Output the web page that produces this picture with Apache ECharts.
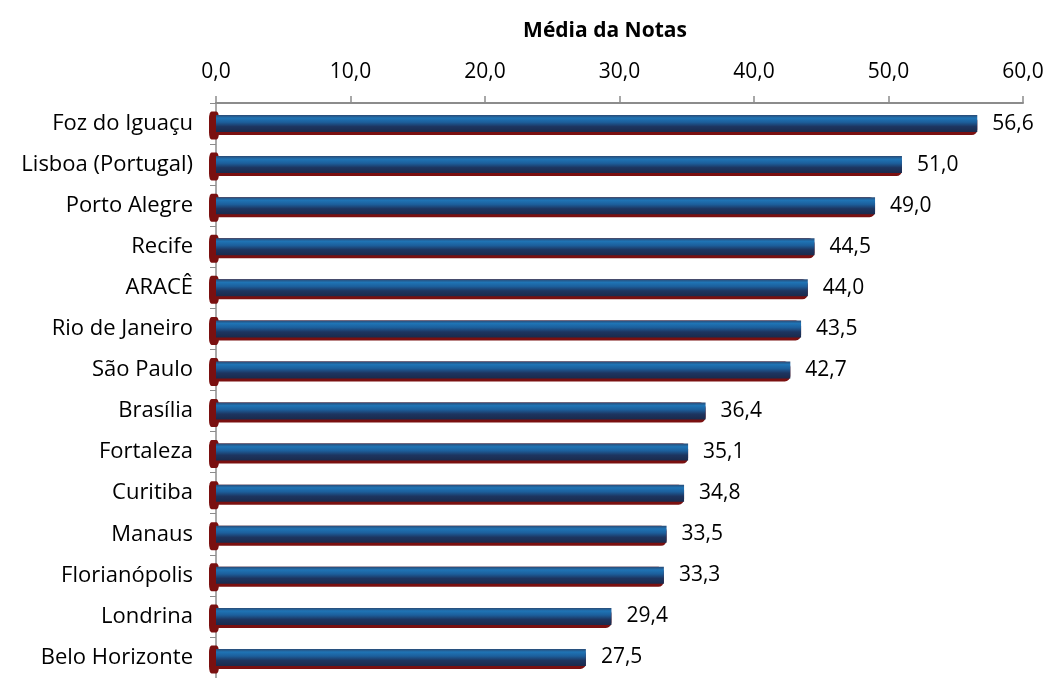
<!DOCTYPE html>
<html>
<head>
<meta charset="utf-8">
<script src="https://cdn.jsdelivr.net/npm/echarts@6/dist/echarts.min.js"></script>
<style>
  html, body { margin: 0; padding: 0; background: #fff; }
  #chart { width: 1049px; height: 678px; }
</style>
</head>
<body>
<div id="chart"></div>
<script>
// Cities, top to bottom
const cities = [
  'Foz do Iguaçu', 'Lisboa (Portugal)', 'Porto Alegre', 'Recife', 'ARACÊ',
  'Rio de Janeiro', 'São Paulo', 'Brasília', 'Fortaleza', 'Curitiba',
  'Manaus', 'Florianópolis', 'Londrina', 'Belo Horizonte'
];
// Average score per city
const scores = [56.6, 51.0, 49.0, 44.5, 44.0, 43.5, 42.7, 36.4, 35.1, 34.8, 33.5, 33.3, 29.4, 27.5];
const axisTicks = [0, 10, 20, 30, 40, 50, 60];

const fontFamily = '"Open Sans", "Noto Sans", sans-serif';
const fmt = v => v.toFixed(1).replace('.', ',');
const darkRed = '#7a1010';

const chart = echarts.init(document.getElementById('chart'));
chart.setOption({
  animation: false,
  title: {
    text: 'Média da Notas',
    left: 600, top: 16, textAlign: 'center',
    textStyle: { fontFamily, fontSize: 21, fontWeight: 'bold', color: '#000' }
  },
  grid: { left: 216, right: 26, top: 103, bottom: -6 },
  xAxis: {
    type: 'value', position: 'top',
    min: axisTicks[0], max: axisTicks[axisTicks.length - 1], interval: 10,
    axisLine: { show: true, lineStyle: { color: '#8c8c8c', width: 2 } },
    axisTick: { show: true, length: 7, lineStyle: { color: '#8c8c8c', width: 1.5 } },
    splitLine: { show: false },
    axisLabel: { formatter: v => fmt(v), margin: 20, fontFamily, fontSize: 21, color: '#000' }
  },
  yAxis: {
    type: 'category', inverse: true, data: cities,
    axisLine: { show: true, lineStyle: { color: '#8c8c8c', width: 1.5 } },
    axisTick: { show: true, length: 6, lineStyle: { color: '#8c8c8c' } },
    axisLabel: { margin: 23, fontFamily, fontSize: 22, color: '#000' }
  },
  series: [
    {
      // dark red backing behind each bar
      type: 'bar', data: scores, barWidth: 20, barGap: '-100%', z: 1,
      itemStyle: { color: darkRed, borderColor: darkRed, borderWidth: 3, borderRadius: [2, 4, 4, 2] },
      silent: true
    },
    {
      // rounded red cap at the base of each bar
      type: 'scatter', data: scores.map(() => 0), z: 2, silent: true,
      symbol: 'roundRect', symbolSize: [10, 28], symbolOffset: [-2, 2],
      itemStyle: { color: darkRed, opacity: 1 }
    },
    {
      type: 'bar', data: scores, barWidth: 17, z: 3,
      itemStyle: {
        color: new echarts.graphic.LinearGradient(0, 0, 0, 1, [
          { offset: 0, color: '#2a4a74' },
          { offset: 0.18, color: '#1f74b5' },
          { offset: 0.42, color: '#1c5f9c' },
          { offset: 0.68, color: '#1d3560' },
          { offset: 1, color: '#1a2a4c' }
        ])
      },
      label: {
        show: true, position: 'right', distance: 15,
        formatter: p => fmt(p.value),
        fontFamily, fontSize: 21, color: '#000'
      }
    }
  ]
});
</script>
</body>
</html>
